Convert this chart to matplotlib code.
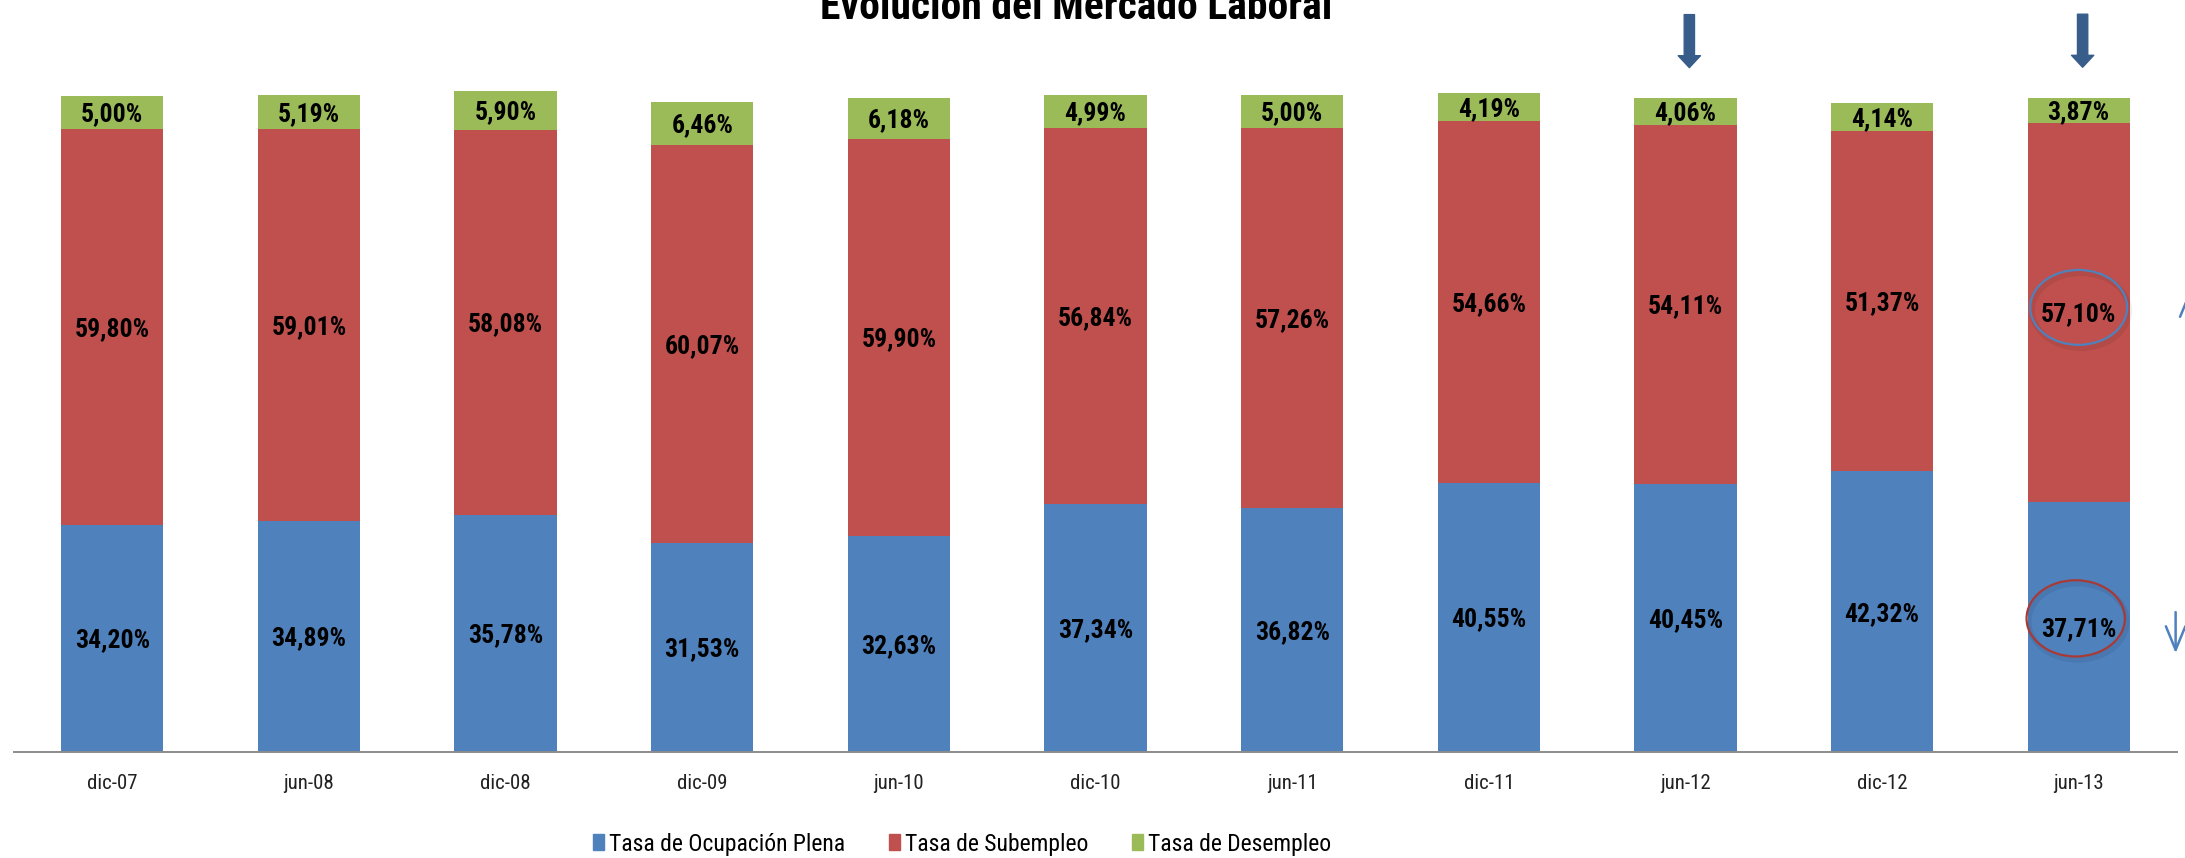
import matplotlib
matplotlib.use("Agg")
import matplotlib.pyplot as plt
from matplotlib import font_manager
from matplotlib.patches import Ellipse, Patch
import numpy as np

# ---------------- data ----------------
categories = ["dic-07", "jun-08", "dic-08", "dic-09", "jun-10", "dic-10",
              "jun-11", "dic-11", "jun-12", "dic-12", "jun-13"]
ocupacion = [34.20, 34.89, 35.78, 31.53, 32.63, 37.34, 36.82, 40.55, 40.45, 42.32, 37.71]
subempleo = [59.80, 59.01, 58.08, 60.07, 59.90, 56.84, 57.26, 54.66, 54.11, 51.37, 57.10]
desempleo = [5.00, 5.19, 5.90, 6.46, 6.18, 4.99, 5.00, 4.19, 4.06, 4.14, 3.87]
series_names = ["Tasa de Ocupación Plena", "Tasa de Subempleo", "Tasa de Desempleo"]
title = "Evolución del Mercado Laboral"
arrow_idx = [8, 10]        # bars flagged with arrows on top
circled_idx = 10           # bar whose labels are circled

# ---------------- fonts ----------------
available = {f.name for f in font_manager.fontManager.ttflist}
family = "DejaVu Sans"
for cand in ["Liberation Sans Narrow", "Roboto Condensed", "Open Sans Condensed",
             "Liberation Sans", "Roboto"]:
    if cand in available:
        family = cand
        break
plt.rcParams["font.family"] = [family, "DejaVu Sans"]

BLUE, RED, GREEN = "#4F81BD", "#C0504D", "#9BBB59"
ARROW = "#385D8A"

W, H = 2185, 858
fig = plt.figure(figsize=(W / 100, H / 100), dpi=100)
ax = fig.add_axes([14 / W, 1 - 752 / H, (2177 - 14) / W, 663 / H])

x = np.arange(len(categories))
ocu = np.array(ocupacion)
sub = np.array(subempleo)
des = np.array(desempleo)
bw = 0.52
ax.bar(x, ocu, bw, color=BLUE, linewidth=0)
ax.bar(x, sub, bw, bottom=ocu, color=RED, linewidth=0)
ax.bar(x, des, bw, bottom=ocu + sub, color=GREEN, linewidth=0)

def fmt(v):
    return f"{v:.2f}".replace(".", ",") + "%"

for i in x:
    for val, bot in [(ocu[i], 0), (sub[i], ocu[i]), (des[i], ocu[i] + sub[i])]:
        ax.text(i, bot + val / 2 - 0.3, fmt(val), ha="center", va="center",
                fontsize=18.5, fontweight="bold", color="black")

ax.set_xlim(-0.5, 10.5)
ax.set_ylim(0, 100)
ax.set_yticks([])
ax.set_xticks(x)
ax.set_xticklabels(categories, fontsize=15)
ax.tick_params(axis="x", length=0, pad=16, colors="#222222")
for s in ["top", "right", "left"]:
    ax.spines[s].set_visible(False)
ax.spines["bottom"].set_color("#8c8c8c")
ax.spines["bottom"].set_linewidth(1.4)

# title (cropped at the top in the reference)
fig.text(1076 / W, 1 - 19 / H, title, ha="center", va="baseline",
         fontsize=30, fontweight="bold")

# thick arrows above flagged bars
tot = ocu + sub + des
for i in arrow_idx:
    ax.annotate("", xy=(i + 0.02, tot[i] + 4.6), xytext=(i + 0.02, tot[i] + 12.6),
                arrowprops=dict(arrowstyle="simple,head_length=8.6,head_width=16,tail_width=7.4",
                                mutation_scale=1, color=ARROW, shrinkA=0, shrinkB=0),
                annotation_clip=False)

# ellipses around the last bar's labels
c = circled_idx
sub_c = ocu[c] + sub[c] / 2
ocu_c = ocu[c] / 2
for (cx, cy, w, h, ec) in [(c, sub_c + 0.8, 0.493, 11.3, BLUE),
                           (c - 0.015, ocu_c + 1.3, 0.50, 11.5, "#A83A36")]:
    ax.add_patch(Ellipse((cx + 0.01, cy - 0.5), w, h, fill=False, ec="black",
                         lw=4, alpha=0.07, clip_on=False))
    ax.add_patch(Ellipse((cx, cy), w, h, fill=False, ec=ec, lw=1.6, clip_on=False))

# thin arrows at the right edge
ax.annotate("", xy=(10.565, 69.7), xytext=(10.565, 60.0),
            arrowprops=dict(arrowstyle="->,head_length=17,head_width=7", mutation_scale=1,
                            color=BLUE, lw=1.8, shrinkA=0, shrinkB=0),
            annotation_clip=False)
ax.annotate("", xy=(10.493, 14.9), xytext=(10.493, 21.1),
            arrowprops=dict(arrowstyle="->,head_length=17,head_width=7", mutation_scale=1,
                            color=BLUE, lw=1.8, shrinkA=0, shrinkB=0),
            annotation_clip=False)

# legend
handles = [Patch(color=BLUE), Patch(color=RED), Patch(color=GREEN)]
fig.legend(handles, series_names, loc="center", bbox_to_anchor=(962 / W, 1 - 844 / H),
           ncol=3, frameon=False, fontsize=17, handlelength=0.47, handleheight=0.64,
           handletextpad=0.2, columnspacing=1.85, borderpad=0, borderaxespad=0)

fig.savefig("out.png", dpi=100)
